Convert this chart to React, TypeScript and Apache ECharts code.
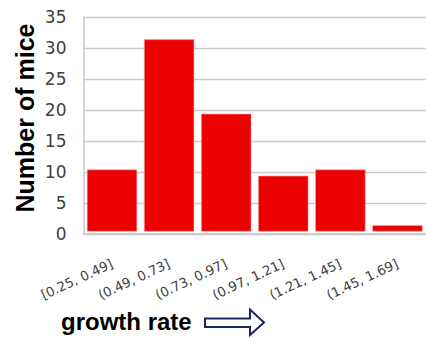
import React, { useEffect, useRef } from "react";
import * as echarts from "echarts";

// Histogram bins of growth rate and the mouse count in each bin
const binLabels = ["[0.25, 0.49]", "(0.49, 0.73]", "(0.73, 0.97]", "(0.97, 1.21]", "(1.21, 1.45]", "(1.45, 1.69]"];
const mouseCounts = [10, 31, 19, 9, 10, 1];
const yTicks = [0, 5, 10, 15, 20, 25, 30, 35];

export default function App() {
  const ref = useRef<HTMLDivElement>(null);

  useEffect(() => {
    if (!ref.current) return;
    const chart = echarts.init(ref.current, null, { renderer: "svg" });
    const yMax = yTicks[yTicks.length - 1];
    chart.setOption({
      animation: false,
      backgroundColor: "#ffffff",
      grid: { left: 83.5, top: 17, width: 346, height: 217, containLabel: false },
      xAxis: {
        type: "category",
        data: binLabels,
        axisLine: { show: true, lineStyle: { color: "#c8c8c8", width: 1.5 } },
        axisTick: { show: false },
        axisLabel: {
          interval: 0,
          rotate: 25,
          margin: 29,
          color: "#404040",
          fontFamily: "DejaVu Sans",
          fontSize: 13.2,
        },
      },
      yAxis: [
        {
          type: "value",
          min: 0,
          max: yMax,
          interval: 5,
          axisLine: { show: true, lineStyle: { color: "#c8c8c8", width: 1.5 } },
          axisTick: { show: false },
          axisLabel: {
            margin: 17,
            color: "#404040",
            fontFamily: "DejaVu Sans",
            fontSize: 17,
          },
          splitLine: { show: true, lineStyle: { color: "#cbcbcb", width: 1.4 } },
        },
        {
          // the bars sit slightly above the baseline
          type: "value",
          min: -0.4,
          max: yMax - 0.4,
          show: false,
          splitLine: { show: false },
        },
      ],
      series: [
        {
          type: "bar",
          yAxisIndex: 1,
          data: mouseCounts,
          barCategoryGap: "12%",
          itemStyle: { color: "#ec0000", borderColor: "#f4a0a0", borderWidth: 0.6 },
        },
      ],
      graphic: [
        {
          type: "text",
          x: 25,
          y: 118,
          rotation: Math.PI / 2,
          style: {
            text: "Number of mice",
            fontFamily: "Liberation Sans, Arial, sans-serif",
            fontWeight: "bold",
            fontSize: 25,
            fill: "#000000",
            textAlign: "center",
            textVerticalAlign: "middle",
          },
        },
        {
          type: "text",
          x: 61,
          y: 321,
          style: {
            text: "growth rate",
            fontFamily: "Liberation Sans, Arial, sans-serif",
            fontWeight: "bold",
            fontSize: 24,
            fill: "#000000",
            textAlign: "left",
            textVerticalAlign: "middle",
          },
        },
        {
          type: "polygon",
          shape: {
            points: [
              [205, 318.5],
              [250, 318.5],
              [250, 309.5],
              [264, 322.5],
              [250, 335],
              [250, 327],
              [205, 327],
            ],
          },
          style: { fill: "#ffffff", stroke: "#1b2660", lineWidth: 2 },
        },
      ],
    });
    return () => chart.dispose();
  }, []);

  return (
    <div
      ref={ref}
      style={{ position: "fixed", left: 0, top: 0, width: 426, height: 338, overflow: "hidden" }}
    />
  );
}
